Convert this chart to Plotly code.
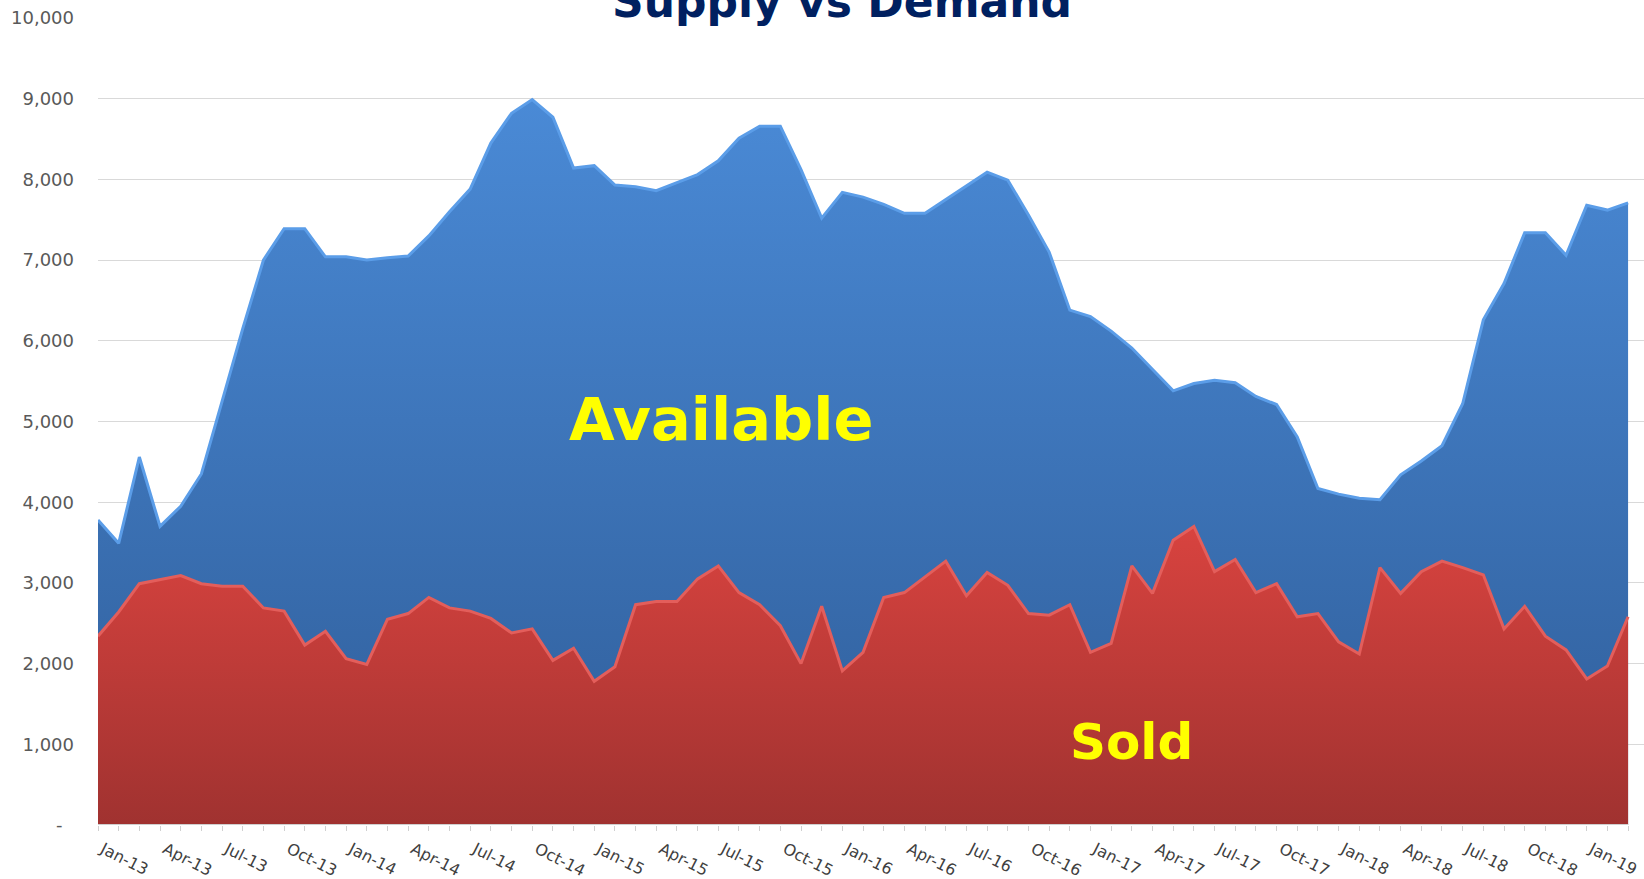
import plotly.graph_objects as go

month_names = ["Jan", "Feb", "Mar", "Apr", "May", "Jun", "Jul", "Aug", "Sep", "Oct", "Nov", "Dec"]
years = [13, 14, 15, 16, 17, 18, 19]
months = [f"{m}-{y}" for y in years for m in month_names][:75]

available = [3780, 3490, 4560, 3700, 3950, 4350, 5250, 6150, 7000,
             7390, 7390, 7040, 7040, 7000, 7030, 7050, 7300, 7600, 7880,
             8450, 8820, 8990, 8770, 8140, 8170, 7930, 7910, 7860, 7960,
             8060, 8230, 8510, 8660, 8660, 8120, 7520, 7840, 7780, 7690,
             7580, 7580, 7750, 7920, 8090, 7990, 7560, 7100, 6380, 6300,
             6120, 5910, 5650, 5380, 5470, 5510, 5480, 5310, 5210, 4810,
             4170, 4100, 4050, 4030, 4340, 4510, 4700, 5220, 6260, 6710,
             7340, 7340, 7060, 7680, 7620, 7710]

sold = [2340, 2640, 2990, 3040, 3090, 2990, 2960, 2960, 2690, 2650,
        2230, 2400, 2060, 1990, 2550, 2620, 2820, 2690, 2650, 2560,
        2380, 2430, 2040, 2190, 1780, 1960, 2730, 2770, 2770, 3050,
        3210, 2880, 2730, 2470, 2000, 2710, 1910, 2140, 2820, 2880,
        3080, 3270, 2840, 3130, 2970, 2620, 2600, 2730, 2140, 2250,
        3210, 2870, 3530, 3700, 3140, 3290, 2880, 2990, 2580, 2620,
        2270, 2120, 3190, 2870, 3140, 3270, 3190, 3100, 2430, 2710,
        2340, 2170, 1810, 1970, 2580]

y_ticks = [0, 1000, 2000, 3000, 4000, 5000, 6000, 7000, 8000, 9000, 10000]
y_labels = ["-\u00a0\u00a0", "1,000", "2,000", "3,000", "4,000", "5,000",
            "6,000", "7,000", "8,000", "9,000", "10,000"]

xs = list(range(len(months)))
tick_idx = xs[::3]
tick_txt = [months[i] for i in tick_idx]

fig = go.Figure()

fig.add_trace(go.Scatter(
    x=xs, y=available, mode="lines", name="Available",
    fill="tozeroy",
    fillgradient=dict(type="vertical", start=0, stop=9000,
                      colorscale=[[0, "#2f5d99"], [1, "#4a8ad6"]]),
    line=dict(color="#5b9de8", width=3),
    hoverinfo="skip", showlegend=False,
))

fig.add_trace(go.Scatter(
    x=xs, y=sold, mode="lines", name="Sold",
    fill="tozeroy",
    fillgradient=dict(type="vertical", start=0, stop=3700,
                      colorscale=[[0, "#a03230"], [1, "#d8433f"]]),
    line=dict(color="#e35e5b", width=3),
    hoverinfo="skip", showlegend=False,
))

fig.add_shape(type="line", xref="x", yref="y", x0=0, x1=len(months) - 1,
              y0=0, y1=0, line=dict(color="#cfcfcf", width=2), layer="above")

fig.add_annotation(text="<b>Supply vs Demand</b>", xref="paper", yref="paper",
                   x=0.481, y=1, yanchor="middle", xanchor="center", yshift=17,
                   showarrow=False,
                   font=dict(family="DejaVu Sans", size=44, color="#002060"))
fig.add_annotation(text="<b>Available</b>", x=30.15, y=5020, xref="x", yref="y",
                   showarrow=False,
                   font=dict(family="DejaVu Sans", size=59, color="#ffff00"))
fig.add_annotation(text="<b>Sold</b>", x=50.0, y=1030, xref="x", yref="y",
                   showarrow=False,
                   font=dict(family="DejaVu Sans", size=50, color="#ffff00"))

fig.update_layout(
    width=1644, height=879,
    margin=dict(l=98, r=0, t=18, b=54, autoexpand=False),
    paper_bgcolor="white", plot_bgcolor="white",
    xaxis=dict(
        range=[0, 74.77], showgrid=False, zeroline=False, showline=False,
        automargin=False,
        tickvals=tick_idx, ticktext=tick_txt, tickangle=27,
        ticks="outside", ticklen=5, tickcolor="#d0d0d0", tickwidth=1,
        minor=dict(dtick=1, tick0=0, ticks="outside", ticklen=5,
                   tickcolor="#d0d0d0", tickwidth=1, showgrid=False),
        ticklabelstandoff=3, ticklabelshift=5,
        tickfont=dict(family="DejaVu Sans", size=16, color="#404040"),
    ),
    yaxis=dict(
        range=[0, 10000], tickvals=y_ticks, ticktext=y_labels,
        automargin=False,
        showgrid=True, gridcolor="#d9d9d9", gridwidth=1,
        zeroline=False, showline=False, ticks="",
        ticklabelstandoff=23,
        tickfont=dict(family="DejaVu Sans", size=18, color="#595959"),
    ),
)

fig.write_html("out.html", config={"displayModeBar": False},
               post_script="document.body.style.margin='0px';document.body.style.overflow='hidden';")
